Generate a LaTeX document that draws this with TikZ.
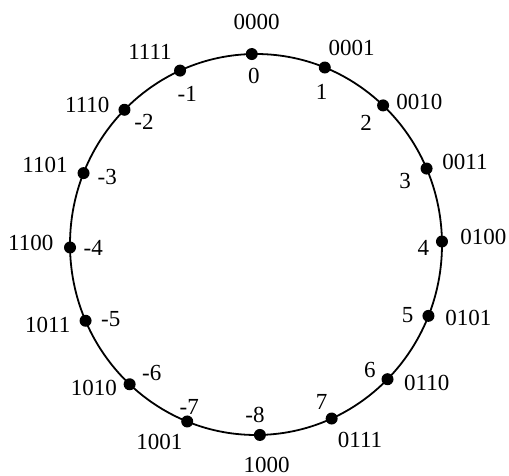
\documentclass[tikz,border=0pt]{standalone}
\usepackage{fontspec}
\setmainfont{Liberation Serif}
\begin{document}
\begin{tikzpicture}[x=0.5pt, y=0.5pt,
    dot/.style={circle, fill=black, inner sep=0pt, minimum size=6pt},
    bits/.style={font=\fontsize{11.5}{13}\selectfont, inner sep=0pt},
    num/.style={font=\fontsize{11.5}{13}\selectfont, inner sep=0pt},
]
    \useasboundingbox (-256,-231.5) rectangle (253,244.5);
    \draw[line width=0.9pt] (0,0) ellipse [x radius=186, y radius=190.5];

    % points on the wheel
    \node[dot] (p0) at (91.3:186 and 190.5) {};
    \node[dot] (p1) at (68.3:186 and 190.5) {};
    \node[dot] (p2) at (46.9:186 and 190.5) {};
    \node[dot] (p3) at (23.5:186 and 190.5) {};
    \node[dot] (p4) at (0.9:186 and 190.5) {};
    \node[dot] (p5) at (-22:186 and 190.5) {};
    \node[dot] (p6) at (-45:186 and 190.5) {};
    \node[dot] (p7) at (-66:186 and 190.5) {};
    \node[dot] (m8) at (-88.8:186 and 190.5) {};
    \node[dot] (m7) at (-111.7:186 and 190.5) {};
    \node[dot] (m6) at (-132.8:186 and 190.5) {};
    \node[dot] (m5) at (-156.4:186 and 190.5) {};
    \node[dot] (m4) at (180.9:186 and 190.5) {};
    \node[dot] (m3) at (158:186 and 190.5) {};
    \node[dot] (m2) at (135:186 and 190.5) {};
    \node[dot] (m1) at (114.1:186 and 190.5) {};

    % bit patterns
    \node[bits] (b0000) at (0.7,222.8) {0000};
    \node[bits] (b0001) at (95.7,196.2) {0001};
    \node[bits] (b0010) at (163.3,142.8) {0010};
    \node[bits] (b0011) at (209,82.8) {0011};
    \node[bits] (b0100) at (227.3,7.8) {0100};
    \node[bits] (b0101) at (212.3,-73.8) {0101};
    \node[bits] (b0110) at (170.7,-138.8) {0110};
    \node[bits] (b0111) at (104,-195.5) {0111};
    \node[bits] (b1000) at (10.7,-220.5) {1000};
    \node[bits] (b1001) at (-96.7,-197.2) {1001};
    \node[bits] (b1010) at (-162,-143.8) {1010};
    \node[bits] (b1011) at (-208.3,-80.5) {1011};
    \node[bits] (b1100) at (-225.3,1.2) {1100};
    \node[bits] (b1101) at (-211,79.5) {1101};
    \node[bits] (b1110) at (-168.7,139.5) {1110};
    \node[bits] (b1111) at (-106,192.8) {1111};

    % values
    \node[num] (v0) at (-2,168.5) {0};
    \node[num] (v1) at (65.7,152.8) {1};
    \node[num] (v2) at (110,121.2) {2};
    \node[num] (v3) at (149,63.5) {3};
    \node[num] (v4) at (167.3,-3.8) {4};
    \node[num] (v5) at (151.7,-70.5) {5};
    \node[num] (v6) at (114,-125.5) {6};
    \node[num] (v7) at (65.7,-157.2) {7};
    \node[num] (vm8) at (-1,-170.5) {-8};
    \node[num] (vm7) at (-66.7,-162.2) {-7};
    \node[num] (vm6) at (-104.3,-128.2) {-6};
    \node[num] (vm5) at (-145.3,-74.8) {-5};
    \node[num] (vm4) at (-162.7,-3.8) {-4};
    \node[num] (vm3) at (-148.7,67.8) {-3};
    \node[num] (vm2) at (-112,122.8) {-2};
    \node[num] (vm1) at (-68.7,150.2) {-1};
\end{tikzpicture}
\end{document}
